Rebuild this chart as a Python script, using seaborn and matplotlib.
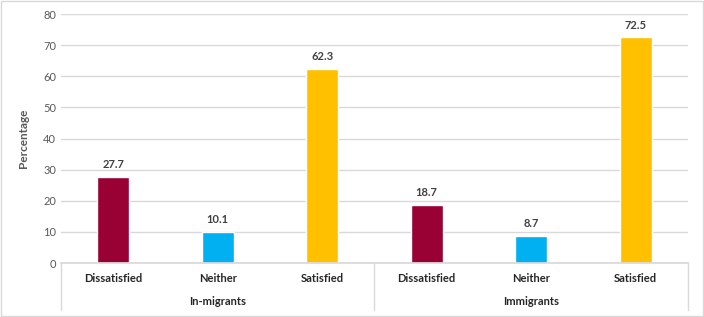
import matplotlib
matplotlib.use("Agg")
import matplotlib.pyplot as plt
import matplotlib.transforms as mtransforms
from matplotlib.patches import Rectangle
import seaborn as sns
import pandas as pd

groups = ["In-migrants", "In-migrants", "In-migrants", "Immigrants", "Immigrants", "Immigrants"]
responses = ["Dissatisfied", "Neither", "Satisfied", "Dissatisfied", "Neither", "Satisfied"]
values = [27.7, 10.1, 62.3, 18.7, 8.7, 72.5]
group_names = ["In-migrants", "Immigrants"]
colors = {"Dissatisfied": "#990033", "Neither": "#00B0F0", "Satisfied": "#FFC000"}

df = pd.DataFrame({"group": groups, "response": responses, "value": values})
df["key"] = df["group"] + "|" + df["response"]

sns.set_theme(style="white")
plt.rcParams["font.family"] = ["Lato", "DejaVu Sans"]

fig = plt.figure(figsize=(7.04, 3.17), dpi=100)
ax = fig.add_axes([0.0866, 0.1703, 0.8906, 0.7855])

sns.barplot(data=df, x="key", y="value", hue="response", palette=colors,
            dodge=False, width=0.31, saturation=1, legend=False, ax=ax)

ax.set_ylim(0, 80)
ax.set_xlim(-0.5, len(values) - 0.5)
ax.set_yticks(range(0, 81, 10))
ax.yaxis.grid(True, color="#D9D9D9", linewidth=1)
ax.set_axisbelow(True)
for s in ["top", "right", "left"]:
    ax.spines[s].set_visible(False)
ax.spines["bottom"].set_color("#D9D9D9")
ax.tick_params(axis="both", length=0, colors="#595959", labelsize=8)
ax.tick_params(axis="x", pad=7)
ax.set_xticks(range(len(values)))
ax.set_xticklabels(responses, fontweight="bold", color="#262626", fontsize=8)
ax.set_xlabel("")
ax.set_ylabel("Percentage", color="#595959", fontsize=8.5, fontweight="bold", labelpad=10)

# value labels
for i, v in enumerate(values):
    ax.text(i, v + 2.2, f"{v}", ha="center", va="bottom", fontsize=8,
            fontweight="bold", color="#404040")

# group labels and separators
trans = mtransforms.blended_transform_factory(ax.transData, ax.transAxes)
for gi, g in enumerate(group_names):
    ax.text(gi * 3 + 1, -0.155, g, transform=trans, ha="center", va="center",
            fontsize=8, fontweight="bold", color="#262626")
for xpos in [-0.5, 2.5, 5.5]:
    ax.plot([xpos, xpos], [0, -0.19], transform=trans, color="#D9D9D9",
            linewidth=1, clip_on=False)

fig.patches.append(Rectangle((0.002, 0.004), 0.996, 0.992, transform=fig.transFigure,
                             fill=False, edgecolor="#D9D9D9", linewidth=1))

fig.savefig("out.png", dpi=100)
